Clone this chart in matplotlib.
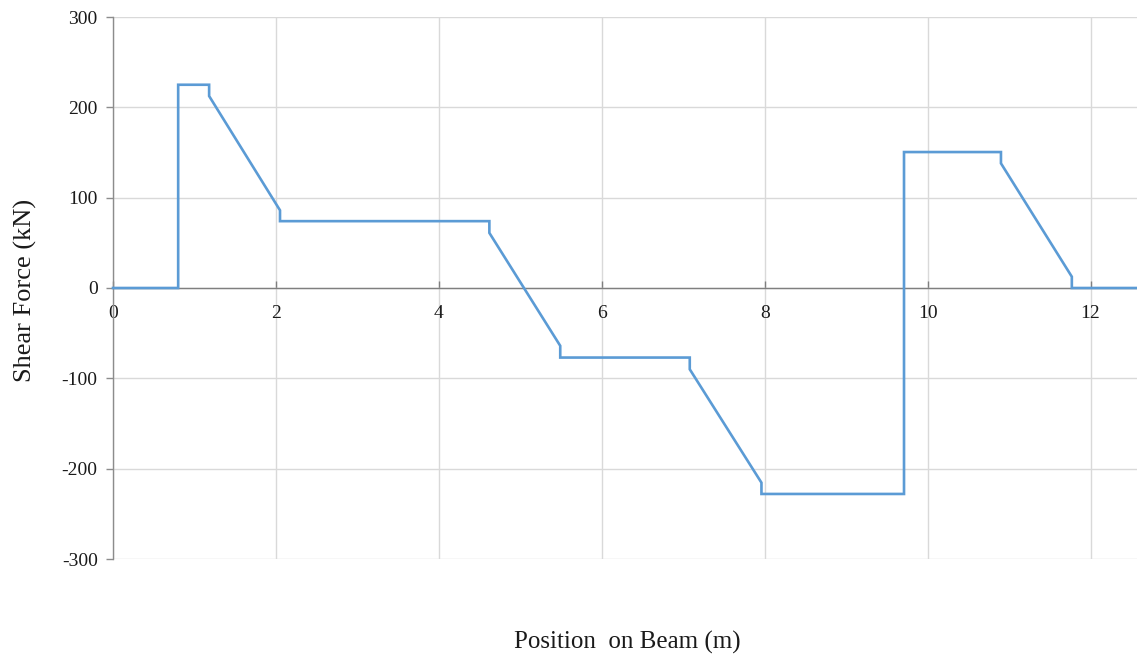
import matplotlib
matplotlib.use("Agg")
import matplotlib.pyplot as plt

# Shear force diagram: position along the beam (m) and shear force (kN)
position_m = [0.0, 0.80, 0.80, 1.18, 1.18, 2.05, 2.05, 4.62, 4.62, 5.49, 5.49,
              7.08, 7.08, 7.96, 7.96, 9.71, 9.71, 10.90, 10.90, 11.77, 11.77, 12.6]
shear_kN = [0.0, 0.0, 225.0, 225.0, 212.5, 86.0, 74.0, 74.0, 61.0, -64.0, -77.0,
            -77.0, -90.0, -215.5, -228.0, -228.0, 150.5, 150.5, 138.0, 12.5, 0.0, 0.0]

x_ticks = [0, 2, 4, 6, 8, 10, 12]
y_ticks = [-300, -200, -100, 0, 100, 200, 300]

plt.rcParams['font.family'] = ['Liberation Serif', 'DejaVu Serif']
plt.rcParams['axes.unicode_minus'] = False

fig = plt.figure(figsize=(11.37, 6.62), dpi=100)
ax = fig.add_axes([113 / 1137, 1 - 559 / 662, 1 - 113 / 1137, (559 - 17) / 662])

ax.plot(position_m, shear_kN, color='#5B9BD5', linewidth=1.9, solid_joinstyle='miter',
        zorder=3, clip_on=False)

ax.set_xlim(0, 12.57)
ax.set_ylim(-300, 300)
ax.set_xticks(x_ticks)
ax.set_yticks(y_ticks)

ax.grid(True, color='#D9D9D9', linewidth=1.0)
ax.set_axisbelow(True)

for side in ('top', 'right'):
    ax.spines[side].set_visible(False)
ax.spines['bottom'].set_position(('data', 0))
ax.spines['bottom'].set_color('#7F7F7F')
ax.spines['bottom'].set_linewidth(1.0)
ax.spines['left'].set_color('#8C8C8C')
ax.spines['left'].set_linewidth(1.0)
ax.spines['bottom'].set_zorder(2)

ax.tick_params(axis='x', direction='in', length=5, width=1, color='#7F7F7F',
               labelsize=14, pad=12, labelcolor='#1A1A1A')
ax.tick_params(axis='y', direction='out', length=5, width=1, color='#8C8C8C',
               labelsize=14, pad=6, labelcolor='#1A1A1A')

fig.text(25 / 1137, 1 - 290 / 662, 'Shear Force (kN)', rotation=90, ha='center',
         va='center', fontsize=19, color='#1A1A1A')
fig.text(627 / 1137, 1 - 642 / 662, 'Position  on Beam (m)', ha='center',
         va='center', fontsize=18, color='#1A1A1A')

fig.savefig('out.png', dpi=100)
